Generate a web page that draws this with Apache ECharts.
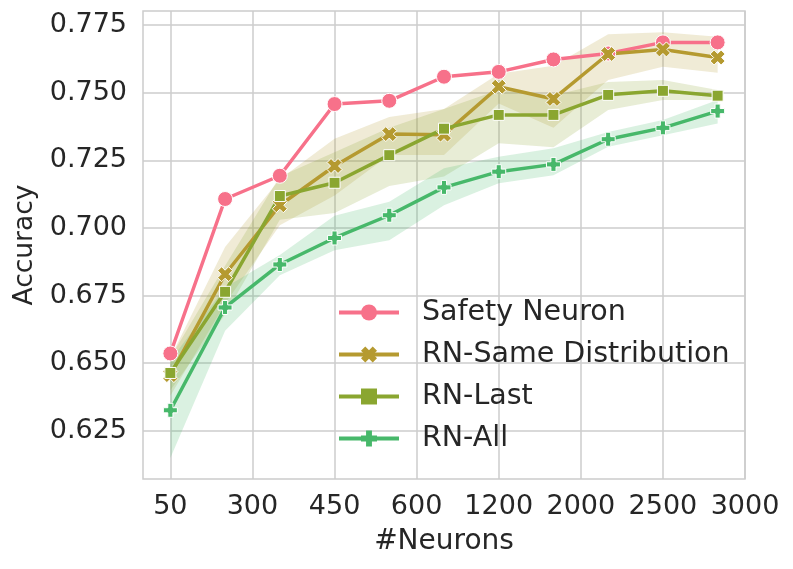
<!DOCTYPE html>
<html>
<head>
<meta charset="utf-8">
<script src="https://cdn.jsdelivr.net/npm/echarts@6/dist/echarts.min.js"></script>
<style>html,body{margin:0;padding:0;background:#fff}#c{width:793px;height:569px}</style>
</head>
<body>
<div id="c"></div>
<script>
// x positions are category indices 0..10 (11 neuron settings)
const xIndex = [0,1,2,3,4,5,6,7,8,9,10];
const tickPositions = [0,1.5,3,4.5,6,7.5,9,10.5];
const tickLabels = ['50','300','450','600','1200','2000','2500','3000'];
const yTicks = [0.625,0.650,0.675,0.700,0.725,0.750,0.775];

const safetyNeuron = [0.6536,0.7107,0.7193,0.7458,0.7470,0.7559,0.7577,0.7623,0.7645,0.7686,0.7686];
const rnSame      = [0.6456,0.6829,0.7084,0.7229,0.7347,0.7345,0.7522,0.7477,0.7643,0.7660,0.7630];
const rnSameLow   = [0.638,0.672,0.701,0.712,0.727,0.727,0.746,0.737,0.7547,0.7596,0.7574];
const rnSameHigh  = [0.652,0.693,0.718,0.733,0.741,0.744,0.757,0.760,0.7716,0.7723,0.7707];
const rnLast      = [0.6464,0.6764,0.7118,0.7167,0.7269,0.7367,0.7418,0.7418,0.7492,0.7507,0.7489];
const rnLastLow   = [0.640,0.668,0.703,0.7055,0.7155,0.719,0.7313,0.7298,0.7436,0.7473,0.7473];
const rnLastHigh  = [0.652,0.686,0.719,0.728,0.737,0.744,0.751,0.749,0.754,0.7547,0.751];
const rnAll       = [0.6326,0.6706,0.6865,0.6963,0.7047,0.7150,0.7208,0.7235,0.7328,0.7370,0.7432];
const rnAllLow    = [0.615,0.662,0.6825,0.6918,0.6955,0.7084,0.7165,0.7195,0.7300,0.7343,0.7386];
const rnAllHigh   = [0.651,0.678,0.690,0.7045,0.7097,0.7221,0.7263,0.7295,0.7355,0.7399,0.7473];

const names = ['Safety Neuron','RN-Same Distribution','RN-Last','RN-All'];
const colors = ['#f7718a','#b59a30','#8aa630','#47b86a'];
const bandColors = ['rgba(181,154,48,0.2)','rgba(138,166,48,0.2)','rgba(71,184,106,0.2)'];

const X_PATH = 'path://M-3,-1.4L-1.4,-3L0,-1.6L1.4,-3L3,-1.4L1.6,0L3,1.4L1.4,3L0,1.6L-1.4,3L-3,1.4L-1.6,0Z';
const PLUS_PATH = 'path://M-1.1,-3H1.1V-1.1H3V1.1H1.1V3H-1.1V1.1H-3V-1.1H-1.1Z';

function pairs(arr){ return arr.map((v,i)=>[xIndex[i], v]); }

function band(low, high, fill){
  return {
    type:'custom', silent:true, z:1,
    data: low.map((v,i)=>[xIndex[i], v, high[i]]),
    encode:{x:0, y:[1,2]},
    renderItem:function(params, api){
      if (params.dataIndex !== 0) return null;
      const pts = [];
      for (let i=0;i<xIndex.length;i++) pts.push(api.coord([xIndex[i], high[i]]));
      for (let i=xIndex.length-1;i>=0;i--) pts.push(api.coord([xIndex[i], low[i]]));
      return {type:'polygon', shape:{points:pts}, style:{fill:fill, stroke:null}};
    }
  };
}

function mainLine(name, data, color, symbol, size){
  return {type:'line', name:name, data:pairs(data), symbol:symbol, symbolSize:size,
    lineStyle:{color:color, width:3.5}, itemStyle:{color:color, borderColor:'#fff', borderWidth:1},
    z:3};
}

const series = [
  band(rnSameLow, rnSameHigh, bandColors[0]),
  band(rnLastLow, rnLastHigh, bandColors[1]),
  band(rnAllLow, rnAllHigh, bandColors[2]),
  mainLine(names[0], safetyNeuron, colors[0], 'circle', 15),
  mainLine(names[1], rnSame, colors[1], X_PATH, 15),
  mainLine(names[2], rnLast, colors[2], 'rect', 11),
  mainLine(names[3], rnAll, colors[3], PLUS_PATH, 14)
];

const chart = echarts.init(document.getElementById('c'), null, {renderer:'canvas'});
chart.setOption({
  animation:false,
  backgroundColor:'#fff',
  grid:{left:143, top:11, right:48, bottom:90, show:true, borderColor:'#cccccc', borderWidth:1.5, containLabel:false},
  legend:{
    data:names, orient:'vertical', left:332, top:293, itemWidth:60, itemHeight:20, itemGap:13,
    textStyle:{fontFamily:'DejaVu Sans', fontSize:28.5, color:'#262626', padding:[0,0,0,18]},
    lineStyle:{width:4}, itemStyle:{borderWidth:0}
  },
  xAxis:{
    type:'value', min:-0.5, max:10.5,
    name:'#Neurons', nameLocation:'middle', nameGap:49,
    nameTextStyle:{fontFamily:'DejaVu Sans', fontSize:28, color:'#262626'},
    axisLine:{show:false}, axisTick:{show:false, customValues:tickPositions},
    axisLabel:{customValues:tickPositions, fontFamily:'DejaVu Sans', fontSize:27, color:'#262626', margin:14,
      formatter:function(v){ const i = Math.round(v/1.5); return tickLabels[i] !== undefined ? tickLabels[i] : ''; }},
    splitLine:{show:true, lineStyle:{color:'#cccccc', width:1.5}}
  },
  yAxis:{
    type:'value', min:0.6072, max:0.7802,
    name:'Accuracy', nameLocation:'middle', nameGap:104, nameRotate:90,
    nameTextStyle:{fontFamily:'DejaVu Sans', fontSize:26.5, color:'#262626'},
    axisLine:{show:false}, axisTick:{show:false, customValues:yTicks},
    axisLabel:{customValues:yTicks, fontFamily:'DejaVu Sans', fontSize:27, color:'#262626', margin:16,
      formatter:function(v){ return v.toFixed(3); }},
    splitLine:{show:true, lineStyle:{color:'#cccccc', width:1.5}}
  },
  series:series
});
</script>
</body>
</html>
